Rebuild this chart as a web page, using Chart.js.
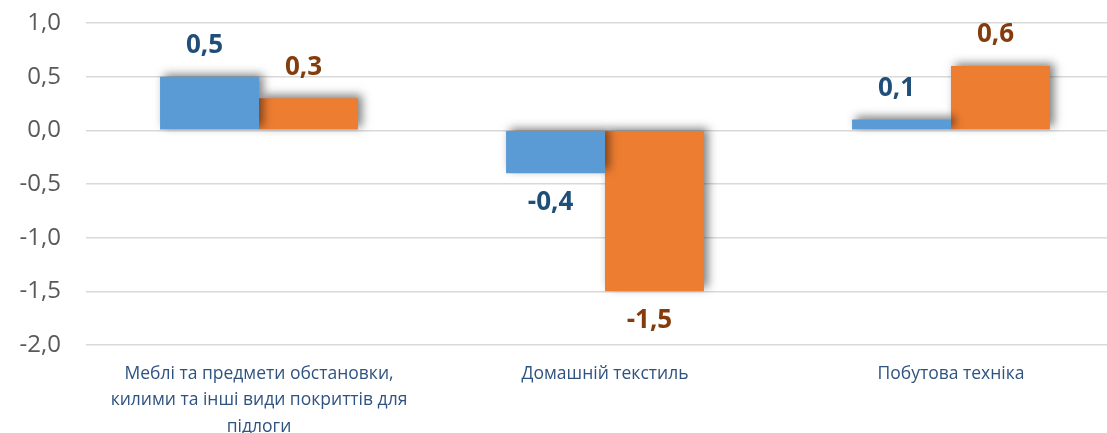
<!DOCTYPE html>
<html>
<head>
<meta charset="utf-8">
<script src="https://cdn.jsdelivr.net/npm/chart.js@4"></script>
<style>
  html, body { margin: 0; padding: 0; overflow: hidden; background: #fff; }
  #wrap { width: 1130px; height: 433px; }
</style>
</head>
<body>
<div id="wrap"><canvas id="bar-chart"></canvas></div>
<script>
const categories = [
    ['Меблі та предмети обстановки,', 'килими та інші види покриттів для', 'підлоги'],
    'Домашній текстиль',
    'Побутова техніка'
];
const series1 = [0.5, -0.4, 0.1];
const series2 = [0.3, -1.5, 0.6];

const fmt = v => v.toFixed(1).replace('.', ',');

// shadow under the bars, like the office chart
const barShadow = {
    id: 'barShadow',
    beforeDatasetsDraw(chart) {
        const c = chart.ctx;
        c.save();
        c.shadowColor = 'rgba(0,0,0,0.5)';
        c.shadowBlur = 9;
        c.shadowOffsetX = 4;
        c.shadowOffsetY = -3;
    },
    afterDatasetsDraw(chart) {
        chart.ctx.restore();
    }
};

// value labels above / below each bar
const valueLabels = {
    id: 'valueLabels',
    afterDatasetsDraw(chart) {
        const c = chart.ctx;
        c.save();
        c.font = 'bold 26px "Open Sans"';
        c.textAlign = 'center';
        c.textBaseline = 'middle';
        chart.data.datasets.forEach((ds, i) => {
            chart.getDatasetMeta(i).data.forEach((bar, j) => {
                const v = ds.data[j];
                c.fillStyle = ds.labelColor;
                const y = v >= 0 ? bar.y - 31 : bar.y + 29;
                c.fillText(fmt(v), bar.x - 5, y);
            });
        });
        c.restore();
    }
};

var ctx = document.getElementById('bar-chart');

const bar_chart = new Chart(ctx, {
    type: 'bar',
    data: {
        labels: categories,
        datasets: [{
            label: 'Ряд 1',
            data: series1,
            backgroundColor: '#5B9BD5',
            labelColor: '#1F4E79'
        }, {
            label: 'Ряд 2',
            data: series2,
            backgroundColor: '#ED7D31',
            labelColor: '#843C0C'
        }]
    },
    options: {
        responsive: true,
        maintainAspectRatio: false,
        animation: false,
        categoryPercentage: 0.572,
        barPercentage: 1,
        layout: {
            padding: { top: 0, right: 6, left: 0, bottom: 0 }
        },
        plugins: {
            legend: { display: false },
            tooltip: { enabled: false }
        },
        scales: {
            x: {
                grid: { display: false },
                border: { display: false },
                ticks: {
                    color: '#2F5380',
                    font: { family: 'Open Sans', size: 17.5, lineHeight: 1.5 },
                    padding: 8,
                    maxRotation: 0,
                    autoSkip: false
                },
                afterFit(scale) { scale.height = 88; }
            },
            y: {
                min: -2,
                max: 1,
                grid: { color: '#D9D9D9', lineWidth: 1.5, drawTicks: false },
                border: { display: false },
                ticks: {
                    stepSize: 0.5,
                    color: '#595959',
                    font: { family: 'Open Sans', size: 24 },
                    padding: 25,
                    callback: v => fmt(v)
                },
                afterFit(scale) {
                    scale.width = 86;
                    scale.paddingTop = 23;
                    scale.paddingBottom = 0;
                }
            }
        }
    },
    plugins: [barShadow, valueLabels]
});
</script>
</body>
</html>
